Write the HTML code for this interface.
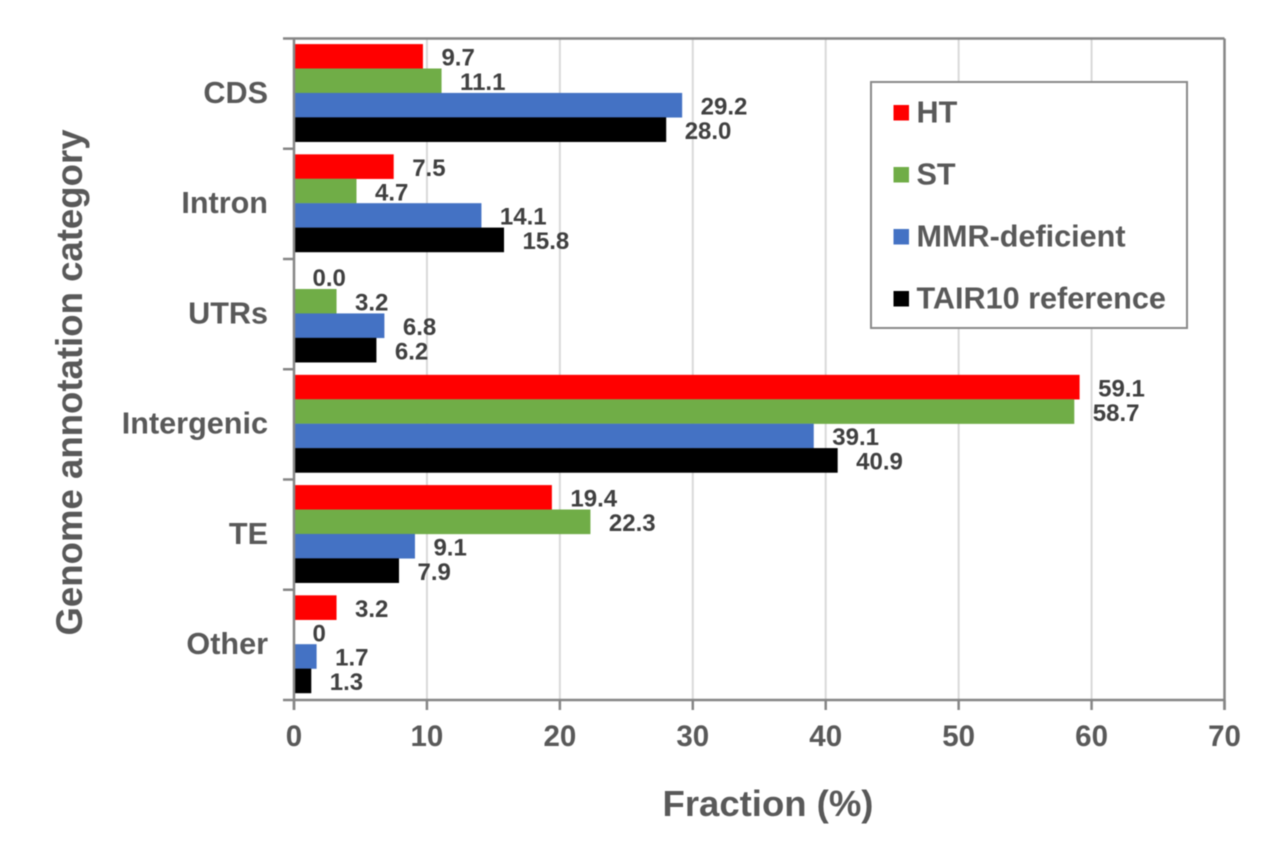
<!DOCTYPE html>
<html>
<head>
<meta charset="utf-8">
<title>Genome annotation fractions</title>
<style>
html,body{margin:0;padding:0;background:#fff;}
svg{display:block;filter:blur(0.5px);}
text{font-family:"Liberation Sans",Arial,sans-serif;font-weight:bold;}
</style>
</head>
<body>
<svg id="chart" xmlns="http://www.w3.org/2000/svg" width="1280" height="846" viewBox="0 0 1280 846">
<rect x="0" y="0" width="1280" height="846" fill="#ffffff"/>
<g id="grid"></g>
<g id="bars"></g>
<g id="axes"></g>
<g id="values"></g>
<text x="768" y="816" font-size="36.5" fill="#595959" text-anchor="middle">Fraction (%)</text>
<text transform="translate(82,382.5) rotate(-90)" font-size="36.6" fill="#595959" text-anchor="middle">Genome annotation category</text>
<g id="legend">
<rect x="871" y="82" width="316" height="246" fill="#ffffff" stroke="#8a8a8a" stroke-width="2"/>
</g>
</svg>
<script>
const categories = ["CDS", "Intron", "UTRs", "Intergenic", "TE", "Other"];
const seriesNames = ["HT", "ST", "MMR-deficient", "TAIR10 reference"];
const seriesColors = ["#ff0000", "#70ad47", "#4472c4", "#000000"];
const htValues = [9.7, 7.5, 0.0, 59.1, 19.4, 3.2];
const stValues = [11.1, 4.7, 3.2, 58.7, 22.3, 0];
const mmrValues = [29.2, 14.1, 6.8, 39.1, 9.1, 1.7];
const tairValues = [28.0, 15.8, 6.2, 40.9, 7.9, 1.3];
const htLabels = ["9.7", "7.5", "0.0", "59.1", "19.4", "3.2"];
const stLabels = ["11.1", "4.7", "3.2", "58.7", "22.3", "0"];
const mmrLabels = ["29.2", "14.1", "6.8", "39.1", "9.1", "1.7"];
const tairLabels = ["28.0", "15.8", "6.2", "40.9", "7.9", "1.3"];
const xTicks = [0, 10, 20, 30, 40, 50, 60, 70];

const seriesValues = [htValues, stValues, mmrValues, tairValues];
const seriesLabels = [htLabels, stLabels, mmrLabels, tairLabels];
const NS = "http://www.w3.org/2000/svg";
const plotLeft = 294, plotRight = 1224.5, plotTop = 38.5, plotBottom = 700;
const xMax = xTicks[xTicks.length - 1];
const bandHeight = (plotBottom - plotTop) / categories.length;
const barHeight = bandHeight * 0.2215;
const bandPad = (bandHeight - barHeight * seriesNames.length) / 2;

function xScale(v) { return plotLeft + (v / xMax) * (plotRight - plotLeft); }
function bandTop(i) { return plotTop + i * bandHeight; }
function barTop(i, s) { return bandTop(i) + bandPad - 0.7 + s * barHeight; }
function make(tag, attrs, parent, txt) {
  const el = document.createElementNS(NS, tag);
  for (const k in attrs) el.setAttribute(k, attrs[k]);
  if (txt !== undefined) el.textContent = txt;
  parent.appendChild(el);
  return el;
}

const grid = document.getElementById("grid");
const bars = document.getElementById("bars");
const axes = document.getElementById("axes");
const valuesGroup = document.getElementById("values");
const legend = document.getElementById("legend");

xTicks.forEach(function (t, idx) {
  if (idx === 0 || idx === xTicks.length - 1) return;
  const line = make("line", { x1: xScale(t), x2: xScale(t), y1: plotTop, y2: plotBottom, stroke: "#d9d9d9", "stroke-width": 2 }, grid);
  
  
});

categories.forEach(function (cat, i) {
  seriesNames.forEach(function (name, s) {
    const v = seriesValues[s][i];
    const bar = make("rect", { x: xScale(0), y: barTop(i, s), width: xScale(v) - xScale(0), height: barHeight + 0.2, fill: seriesColors[s] }, bars);
    
    
    const lab = make("text", { x: xScale(v) + 18.5, y: barTop(i, s) + barHeight / 2 + 9.3, "font-size": 24, fill: "#404040" }, valuesGroup, seriesLabels[s][i]);
    
    
  });
  const catLabel = make("text", { x: 268, y: bandTop(i) + bandHeight / 2 + 9.3, "font-size": 30.6, fill: "#595959", "text-anchor": "end" }, axes, cat);
  
  
});

const axisColor = "#868686";
const topBorder = make("line", { x1: plotLeft, x2: plotRight, y1: plotTop, y2: plotTop, stroke: axisColor, "stroke-width": 2.5 }, axes);


const rightBorder = make("line", { x1: plotRight, x2: plotRight, y1: plotTop, y2: plotBottom + 10, stroke: axisColor, "stroke-width": 2.5 }, axes);


const yAxis = make("line", { x1: plotLeft, x2: plotLeft, y1: plotTop, y2: plotBottom + 10, stroke: axisColor, "stroke-width": 2.5 }, axes);


const xAxis = make("line", { x1: plotLeft - 11, x2: plotRight, y1: plotBottom, y2: plotBottom, stroke: axisColor, "stroke-width": 2.5 }, axes);



for (let i = 0; i < categories.length; i++) {
  const tick = make("line", { x1: plotLeft - 11, x2: plotLeft, y1: bandTop(i), y2: bandTop(i), stroke: axisColor, "stroke-width": 2.5 }, axes);
  
  
}

xTicks.forEach(function (t) {
  const tick = make("line", { x1: xScale(t), x2: xScale(t), y1: plotBottom, y2: plotBottom + 10, stroke: axisColor, "stroke-width": 2.5 }, axes);
  
  
  const label = make("text", { x: xScale(t), y: 746, "font-size": 29.5, fill: "#595959", "text-anchor": "middle" }, axes, String(t));
  
  
});

seriesNames.forEach(function (name, s) {
  const swatch = make("rect", { x: 893.5, y: 105 + s * 62, width: 15.5, height: 15.5, fill: seriesColors[s] }, legend);
  
  
  const text = make("text", { x: 916.5, y: 122.5 + s * 62, "font-size": 30.6, fill: "#595959" }, legend, name);
  
  
});
</script>
</body>
</html>
